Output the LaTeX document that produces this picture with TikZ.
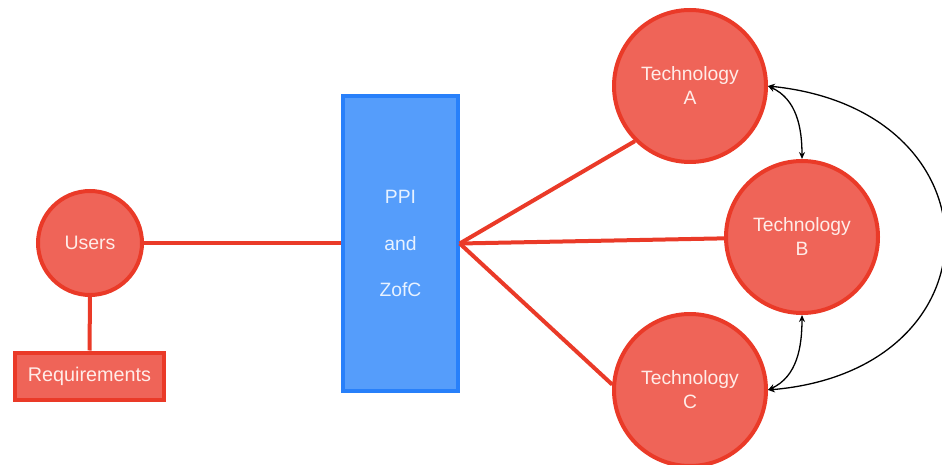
\documentclass[tikz,border=0pt]{standalone}
\usepackage{fontspec}
\setmainfont{Liberation Sans}
\usetikzlibrary{arrows.meta}
\definecolor{redfill}{RGB}{239,100,88}
\definecolor{redline}{RGB}{234,58,40}
\definecolor{bluefill}{RGB}{85,157,251}
\definecolor{blueline}{RGB}{40,128,250}
\definecolor{redtext}{RGB}{255,236,232}
\definecolor{bluetext}{RGB}{232,242,255}
\tikzset{
  rednode/.style={fill=redfill, draw=redline, line width=4pt, text=redtext, align=center, inner sep=0pt},
  techcircle/.style={rednode, circle, minimum size=152pt, font=\fontsize{19.3}{24}\selectfont},
  usercircle/.style={rednode, circle, minimum size=104pt, font=\fontsize{19.5}{24}\selectfont},
  reqbox/.style={rednode, rectangle, minimum width=149pt, minimum height=47pt, font=\fontsize{19.8}{24}\selectfont},
  ppibox/.style={rectangle, fill=bluefill, draw=blueline, line width=3.5pt, text=bluetext, align=center, minimum width=115pt, minimum height=295pt, inner sep=0pt, font=\fontsize{19.3}{46.5}\selectfont},
  redlink/.style={draw=redline, line width=4pt},
  blacklink/.style={draw=black, line width=1.3pt, {Stealth[length=7pt,width=6pt]}-{Stealth[length=7pt,width=6pt]}}
}
\begin{document}
\begin{tikzpicture}[x=1pt, y=-1pt]
\useasboundingbox (0,0) rectangle (942,465);
\clip (0,0) rectangle (942,465);
\node[usercircle] (users) at (90,243) {Users};
\node[reqbox] (req) at (89.5,376) {Requirements};
\node[ppibox] (ppi) at (400.5,243.5) {PPI\\and\\ZofC};
\node[techcircle] (ta) at (690,86) {Technology\\A};
\node[techcircle] (tb) at (802,237) {Technology\\B};
\node[techcircle] (tc) at (690,390) {Technology\\C};
\coordinate (hub) at (ppi.east);
% red connectors
\draw[redlink] (users.south) -- (req.north);
\draw[redlink] (users.east) -- (ppi.west |- users.east);
\draw[redlink] (hub) -- (ta.225);
\draw[redlink] (hub) -- (tb.181);
\draw[redlink] (hub) -- (tc.176);
% black curved arrows
\draw[blacklink] (ta.east) to[out=-25, in=90] (tb.north);
\draw[blacklink] (tb.south) to[out=-90, in=25] (tc.east);
\draw[blacklink] (ta.east) .. controls (1003,110) and (1003,370) .. (tc.east);
\end{tikzpicture}
\end{document}
